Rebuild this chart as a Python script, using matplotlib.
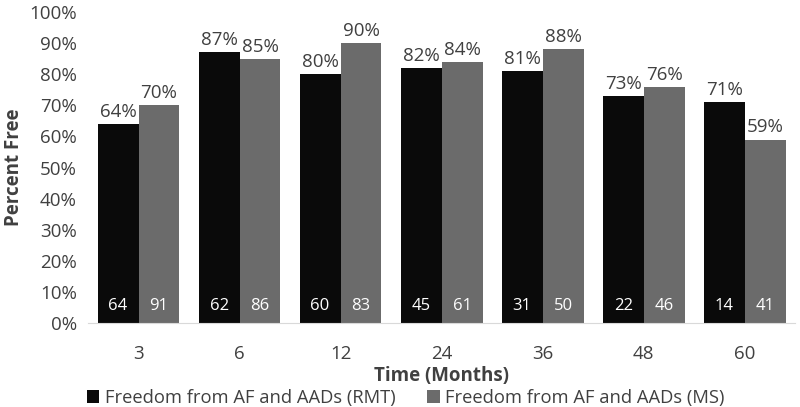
import matplotlib.pyplot as plt
import numpy as np

# Datos del gráfico
meses = ['3', '6', '12', '24', '36', '48', '60']
libre_rmt = [64, 87, 80, 82, 81, 73, 71]
libre_ms = [70, 85, 90, 84, 88, 76, 59]
n_rmt = [64, 62, 60, 45, 31, 22, 14]
n_ms = [91, 86, 83, 61, 50, 46, 41]

plt.rcParams['font.family'] = ['Open Sans', 'DejaVu Sans']
texto = '#404040'

fig = plt.figure(figsize=(8, 4.07), dpi=100)
ax = fig.add_axes([0.11, 0.2064, 0.884, 0.7641])

x = np.arange(len(meses))
ancho = 0.405
b1 = ax.bar(x - ancho / 2, libre_rmt, ancho, color='#0a0a0a',
            label='Freedom from AF and AADs (RMT)')
b2 = ax.bar(x + ancho / 2, libre_ms, ancho, color='#6b6b6b',
            label='Freedom from AF and AADs (MS)')

# Etiquetas de porcentaje encima y de n dentro de las barras
for barras, valores, ns in [(b1, libre_rmt, n_rmt), (b2, libre_ms, n_ms)]:
    for b, v, n in zip(barras, valores, ns):
        cx = b.get_x() + b.get_width() / 2
        ax.text(cx, v + 1.0, '{}%'.format(v), ha='center', va='bottom',
                fontsize=13.5, color=texto)
        ax.text(cx, 5.5, str(n), ha='center', va='center',
                fontsize=12, color='white')

ax.set_xlim(-0.5, len(meses) - 0.5)
ax.set_ylim(0, 100)
ax.set_yticks(range(0, 101, 10))
ax.set_yticklabels(['{}%'.format(v) for v in range(0, 101, 10)])
ax.set_xticks(x)
ax.set_xticklabels(meses)
ax.tick_params(axis='both', length=0, labelsize=13.5, colors=texto)
ax.tick_params(axis='x', pad=16)
ax.tick_params(axis='y', pad=8)

for lado in ['top', 'right', 'left']:
    ax.spines[lado].set_visible(False)
ax.spines['bottom'].set_color('#d9d9d9')

ax.set_xlabel('Time (Months)', fontsize=13.5, fontweight='bold', color=texto, labelpad=2)
ax.set_ylabel('Percent Free', fontsize=13.5, fontweight='bold', color=texto, labelpad=4)

ax.legend(loc='center', bbox_to_anchor=(0.449, -0.242), ncol=2, frameon=False,
          fontsize=13.2, labelcolor=texto, handlelength=0.7, handleheight=0.7,
          handletextpad=0.3, columnspacing=1.7, borderpad=0)

plt.savefig('out.png', dpi=100)
